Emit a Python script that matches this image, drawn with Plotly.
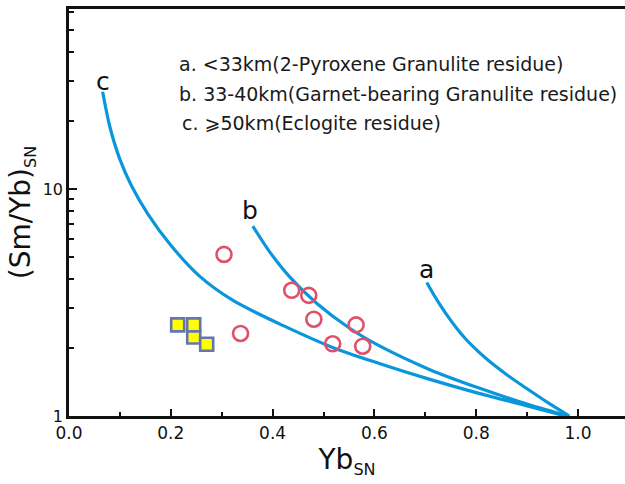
import math
import plotly.graph_objects as go

# Model curves (Yb_SN, (Sm/Yb)_SN)
curve_a_x = [0.703, 0.716, 0.729, 0.745, 0.762, 0.778, 0.794, 0.820, 0.860, 0.900, 0.940, 0.983]
curve_a_y = [3.87, 3.44, 3.09, 2.735, 2.43, 2.20, 2.02, 1.786, 1.52, 1.318, 1.148, 1.00]

curve_b_x = [0.361, 0.395, 0.434, 0.487, 0.552, 0.611, 0.709, 0.807, 0.906, 0.981]
curve_b_y = [6.87, 5.26, 4.09, 3.13, 2.43, 2.03, 1.60, 1.324, 1.117, 1.00]

curve_c_x = [0.066, 0.080, 0.100, 0.123, 0.155, 0.200, 0.257, 0.323, 0.421, 0.519, 0.611, 0.709, 0.807, 0.906, 0.975]
curve_c_y = [26.8, 18.9, 13.5, 10.3, 7.75, 5.65, 4.12, 3.22, 2.50, 2.00, 1.70, 1.45, 1.255, 1.10, 1.00]

# Samples
circle_x = [0.3045, 0.337, 0.4375, 0.471, 0.481, 0.564, 0.518, 0.577]
circle_y = [5.15, 2.31, 3.58, 3.40, 2.67, 2.52, 2.08, 2.03]

square_x = [0.245, 0.2135, 0.245, 0.2705]
square_y = [2.23, 2.52, 2.52, 2.07]

curve_labels = ["a", "b", "c"]
curve_label_x = [0.7027, 0.3556, 0.066]
curve_label_y = [4.43, 8.08, 29.7]

legend_lines = [
    "a. <33km(2-Pyroxene Granulite residue)",
    "b. 33-40km(Garnet-bearing Granulite residue)",
    "c. \u2A7E50km(Eclogite residue)",
]

x_ticks = [0.0, 0.2, 0.4, 0.6, 0.8, 1.0]
y_ticks = [1, 10]
y_minor = [2, 3, 4, 5, 6, 7, 8, 9, 20, 30, 40, 50, 60]

BLUE = "#0A96DC"
FONT = "DejaVu Sans, Arial, sans-serif"
SUB = '<sub><span style="font-size:16px">SN</span></sub>'

fig = go.Figure()
for cx, cy in [(curve_a_x, curve_a_y), (curve_b_x, curve_b_y), (curve_c_x, curve_c_y)]:
    fig.add_trace(go.Scatter(x=cx, y=cy, mode="lines",
                             line=dict(color=BLUE, width=3.2, shape="spline", smoothing=0.8),
                             showlegend=False, hoverinfo="skip"))

fig.add_trace(go.Scatter(x=circle_x, y=circle_y, mode="markers",
                         marker=dict(symbol="circle-open", size=15, color="#E0506A",
                                     line=dict(width=2.6, color="#E0506A")),
                         showlegend=False))
fig.add_trace(go.Scatter(x=square_x, y=square_y, mode="markers",
                         marker=dict(symbol="square", size=13, color="#FFFF00",
                                     line=dict(width=2.6, color="#6675B0")),
                         showlegend=False))

for lab, lx, ly in zip(curve_labels, curve_label_x, curve_label_y):
    fig.add_annotation(x=lx, y=math.log10(ly), xref="x", yref="y", text=lab, showarrow=False,
                       font=dict(family=FONT, size=25, color="#111"),
                       xanchor="center", yanchor="middle")

leg_x = [0.194, 0.194, 0.199]
leg_y = [0.865, 0.790, 0.719]
for t, lx, ly in zip(legend_lines, leg_x, leg_y):
    fig.add_annotation(x=lx, y=ly, xref="paper", yref="paper", text=t, showarrow=False,
                       font=dict(family=FONT, size=19, color="#1a1a1a"),
                       xanchor="left", yanchor="middle")

fig.update_layout(
    width=625, height=484,
    margin=dict(l=69, r=0, t=9, b=68),
    paper_bgcolor="white", plot_bgcolor="white",
    font=dict(family=FONT, color="#111"),
)
fig.update_xaxes(
    range=[0, 1.0923], tickvals=x_ticks, ticktext=[f"{v:.1f}" for v in x_ticks],
    ticks="inside", ticklen=7, tickwidth=2, tickcolor="#111",
    minor=dict(dtick=0.1, tick0=0, ticks="inside", ticklen=4, tickwidth=2, tickcolor="#111"),
    showline=True, linecolor="#111", linewidth=2.5, mirror=True,
    showgrid=False, zeroline=False,
    tickfont=dict(size=17, family=FONT),
    title=dict(text="Yb" + SUB, font=dict(size=28, family=FONT), standoff=6),
)
fig.update_yaxes(
    type="log", range=[0, 1.793], tickvals=y_ticks, ticktext=["1", "10"],
    ticks="inside", ticklen=8, tickwidth=2, tickcolor="#111",
    minor=dict(tickvals=y_minor, ticks="inside", ticklen=5, tickwidth=2, tickcolor="#111", showgrid=False),
    showline=True, linecolor="#111", linewidth=2.5, mirror=False,
    showgrid=False, zeroline=False,
    tickfont=dict(size=16, family=FONT),
    title=dict(text="(Sm/Yb)" + SUB, font=dict(size=28, family=FONT), standoff=4),
)

fig.write_html("out.html")
